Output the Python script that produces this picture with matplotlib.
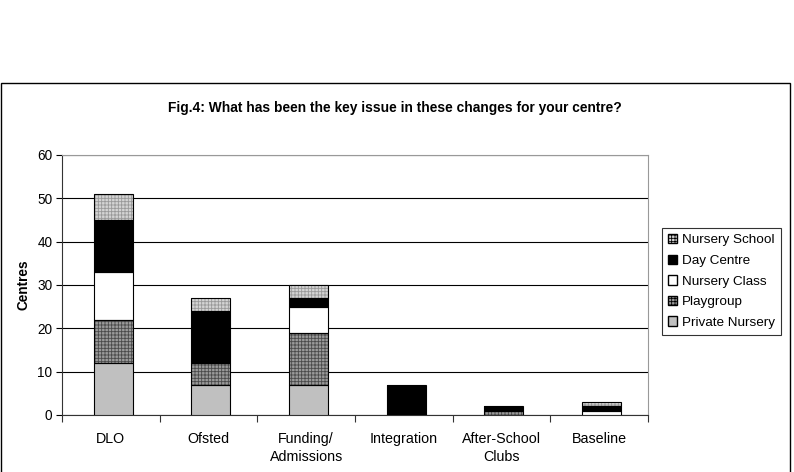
import matplotlib.pyplot as plt
import matplotlib.patches as mpatches
import numpy as np

plt.rcParams['font.family'] = ['Liberation Sans', 'DejaVu Sans']
plt.rcParams['hatch.linewidth'] = 0.6

categories = ['DLO', 'Ofsted', 'Funding/\nAdmissions', 'Integration', 'After-School\nClubs', 'Baseline']
private_nursery = [12, 7, 7, 0, 0, 0]
playgroup = [10, 5, 12, 0, 1, 0]
nursery_class = [11, 0, 6, 0, 0, 1]
day_centre = [12, 12, 2, 7, 1, 1]
nursery_school = [6, 3, 3, 0, 0, 1]

# series bottom to top, with (face, hatch, hatch colour)
series = [
    ('Private Nursery', private_nursery, '#c0c0c0', None, '#c0c0c0'),
    ('Playgroup', playgroup, '#9a9a9a', '+++++', '#4a4a4a'),
    ('Nursery Class', nursery_class, 'white', None, 'white'),
    ('Day Centre', day_centre, 'black', None, 'black'),
    ('Nursery School', nursery_school, '#d4d4d4', '+++++', '#999999'),
]

fig = plt.figure(figsize=(7.94, 4.72), dpi=100)
fig.patches.append(mpatches.Rectangle((1 / 794, -0.1), 789 / 794, 1.1 - 83 / 472,
                                      transform=fig.transFigure, fill=False,
                                      edgecolor='black', linewidth=1.0))

ax = fig.add_axes([62 / 794, 57 / 472, 586 / 794, 260 / 472])
x = np.arange(len(categories))
pos = x + 0.025
bottom = np.zeros(len(categories))
handles = []
for name, vals, face, hatch, hcol in series:
    vals = np.array(vals, dtype=float)
    ax.bar(pos, vals, 0.4, bottom=bottom, color=face, hatch=hatch,
           edgecolor=hcol, linewidth=0, zorder=3)
    ax.bar(pos[vals > 0], vals[vals > 0], 0.4, bottom=bottom[vals > 0], fill=False,
           edgecolor='black', linewidth=0.8, zorder=4)
    handles.append(mpatches.Patch(facecolor=face, hatch=hatch, edgecolor=hcol))
    bottom += vals

ax.set_xlim(-0.5, len(categories) - 0.5)
ax.set_ylim(0, 60)
ax.set_yticks(range(0, 61, 10))
ax.yaxis.grid(True, color='black', linewidth=0.8, zorder=0)
ax.set_axisbelow(True)
ax.set_xticks(np.arange(-0.5, len(categories), 1))
ax.set_xticklabels([])
ax.set_xticks(x, minor=True)
ax.set_xticklabels(categories, minor=True, fontsize=10.3, linespacing=1.35)
ax.tick_params(axis='x', which='minor', length=0, pad=12)
ax.tick_params(axis='x', which='major', length=5, direction='out', color='#333333')
ax.tick_params(axis='y', length=4, direction='out', labelsize=9.8, pad=3)
for s in ['top', 'right']:
    ax.spines[s].set_color('#999999')
ax.spines['left'].set_color('#333333')
ax.spines['bottom'].set_color('#333333')
ax.set_ylabel('Centres', fontweight='bold', fontsize=9.8, labelpad=5)

fig.text(0.5 - 2 / 794, 1 - 108 / 472, 'Fig.4: What has been the key issue in these changes for your centre?',
         ha='center', va='center', fontweight='bold', fontsize=9.9)

leg = fig.legend(handles[::-1], [s[0] for s in series][::-1],
                 loc='upper left', bbox_to_anchor=(662 / 794, 1 - 228 / 472),
                 fontsize=9.7, frameon=True, fancybox=False, edgecolor='black',
                 handlelength=0.7, handleheight=0.7, handletextpad=0.35,
                 labelspacing=0.6, borderpad=0.45, borderaxespad=0)
leg.get_frame().set_linewidth(0.8)
for p in leg.get_patches():
    p.set_edgecolor('black')

fig.savefig('out.png', dpi=100)
